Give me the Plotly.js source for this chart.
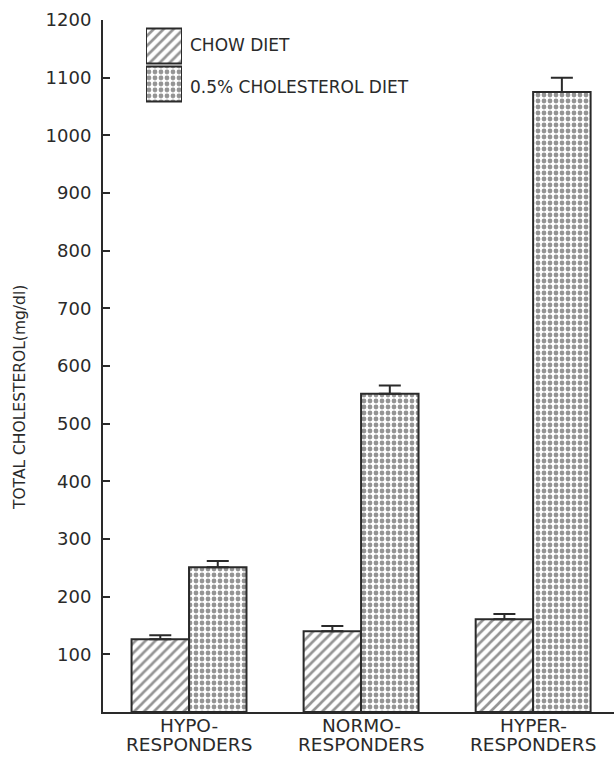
<!DOCTYPE html>
<html>
<head>
<meta charset="utf-8">
<script src="https://cdn.plot.ly/plotly-3.0.1.min.js"></script>
<style>html,body{margin:0;padding:0;background:#fff;}#chart{width:614px;height:759px;}</style>
</head>
<body>
<div id="chart"></div>
<script>
// ---- data ----
var groupLine1 = ["HYPO-", "NORMO-", "HYPER-"];
var groupLine2 = ["RESPONDERS", "RESPONDERS", "RESPONDERS"];
var groupPos = [0, 1, 2];
var seriesNames = ["CHOW DIET", "0.5% CHOLESTEROL DIET"];
var chowMean = [126, 140, 161];
var chowErr = [7, 9, 9];
var cholMean = [251, 552, 1075];
var cholErr = [11, 14, 25];
var noErr = [0, 0, 0];
var yTicks = [100, 200, 300, 400, 500, 600, 700, 800, 900, 1000, 1100, 1200];
var yTitle = "TOTAL CHOLESTEROL(mg/dl)";

var ink = "#2a2a2a";
var font = "DejaVu Sans";

var hatch = {shape: "/", fgcolor: ink, bgcolor: "#fff", size: 7, solidity: 0.38, fillmode: "overlay"};
var dots = {shape: ".", fgcolor: ink, bgcolor: "#fff", size: 6, solidity: 0.5, fillmode: "overlay"};

function errObj(arr) {
  return {type: "data", array: arr, arrayminus: noErr, symmetric: false,
          color: ink, thickness: 2, width: 11};
}

var traces = [
  {type: "bar", name: seriesNames[0], x: groupPos, y: chowMean, showlegend: false,
   marker: {color: "#fff", pattern: hatch, line: {color: ink, width: 2}},
   error_y: errObj(chowErr)},
  {type: "bar", name: seriesNames[1], x: groupPos, y: cholMean, showlegend: false,
   marker: {color: "#fff", pattern: dots, line: {color: ink, width: 2}},
   error_y: errObj(cholErr)},
  // legend swatches
  {type: "bar", orientation: "h", x: [1], y: [0], base: 0, width: [0.92], offset: [-0.46],
   xaxis: "x2", yaxis: "y2", showlegend: false, hoverinfo: "skip",
   marker: {color: "#fff", pattern: hatch, line: {color: ink, width: 2}}},
  {type: "bar", orientation: "h", x: [1], y: [1], base: 0, width: [0.92], offset: [-0.46],
   xaxis: "x2", yaxis: "y2", showlegend: false, hoverinfo: "skip",
   marker: {color: "#fff", pattern: dots, line: {color: ink, width: 2}}}
];

var annotations = [
  {text: yTitle, xref: "paper", yref: "paper", x: -0.162, y: 0.454, textangle: -90,
   showarrow: false, xanchor: "center", yanchor: "middle",
   font: {family: font, size: 15.5, color: ink}},
  {text: seriesNames[0], xref: "paper", yref: "paper", x: 0.1663, y: 0.9639,
   showarrow: false, xanchor: "left", yanchor: "middle",
   font: {family: font, size: 17, color: ink}},
  {text: seriesNames[1], xref: "paper", yref: "paper", x: 0.1663, y: 0.9032,
   showarrow: false, xanchor: "left", yanchor: "middle",
   font: {family: font, size: 17, color: ink}}
];
groupPos.forEach(function (p, i) {
  annotations.push({text: groupLine1[i], xref: "x", yref: "paper", x: p, y: -0.019,
    showarrow: false, xanchor: "center", yanchor: "middle",
    font: {family: font, size: 18.5, color: ink}});
  annotations.push({text: groupLine2[i], xref: "x", yref: "paper", x: p, y: -0.0475,
    showarrow: false, xanchor: "center", yanchor: "middle",
    font: {family: font, size: 18.5, color: ink}});
});

var layout = {
  width: 614, height: 759,
  margin: {l: 103, r: 0, t: 20, b: 47},
  paper_bgcolor: "#fff", plot_bgcolor: "#fff",
  font: {family: font, color: ink},
  barmode: "group", bargap: 0.332, bargroupgap: 0,
  showlegend: false,
  xaxis: {
    range: [-0.5, 2.47], tickvals: groupPos, showticklabels: false,
    showline: true, linecolor: ink, linewidth: 2, ticks: "",
    showgrid: false, zeroline: false
  },
  yaxis: {
    range: [0, 1200], tickvals: yTicks,
    showline: true, linecolor: ink, linewidth: 2,
    ticks: "inside", ticklen: 7, tickwidth: 2, tickcolor: ink,
    showgrid: false, zeroline: false, ticklabelstandoff: 6,
    tickfont: {family: font, size: 18, color: ink}
  },
  xaxis2: {domain: [0.0841, 0.1546], range: [0, 1], anchor: "y2", visible: false, fixedrange: true},
  yaxis2: {domain: [0.880, 0.990], range: [1.5, -0.5], anchor: "x2", visible: false, fixedrange: true},
  annotations: annotations
};

Plotly.newPlot("chart", traces, layout, {staticPlot: true});
</script>
</body>
</html>
